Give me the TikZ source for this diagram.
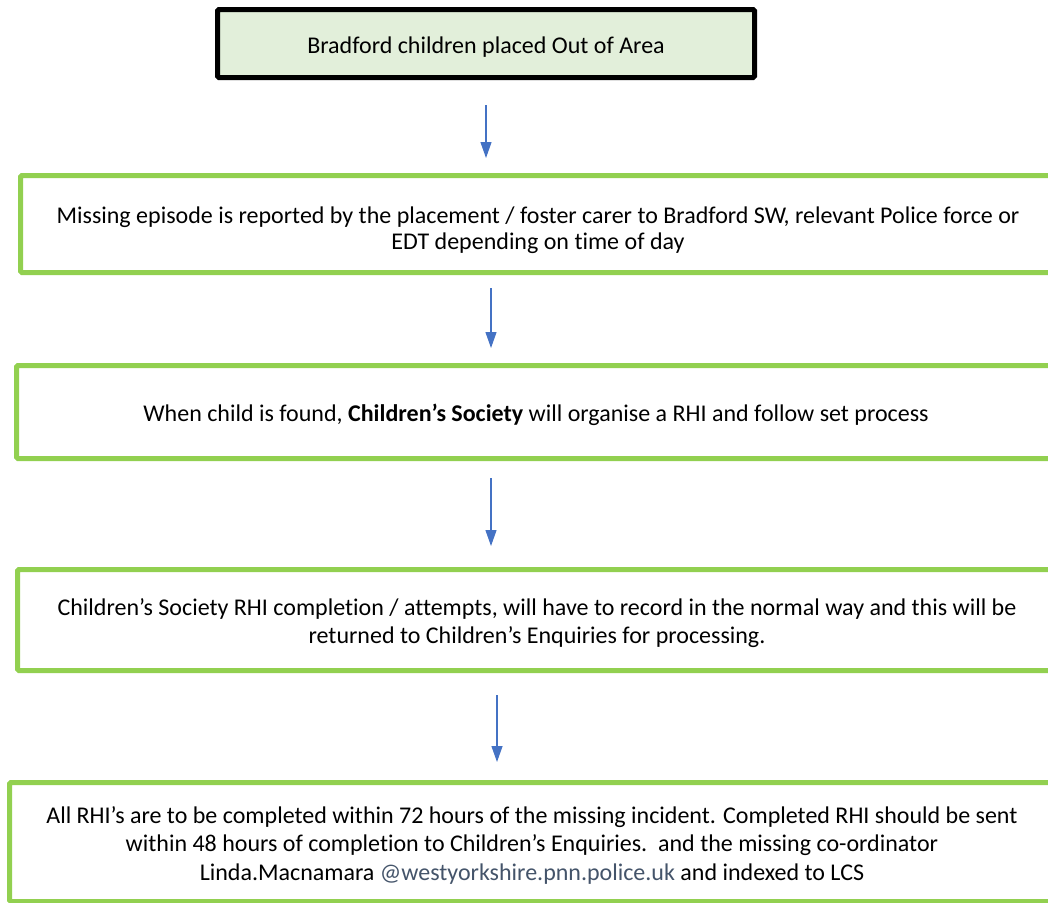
\documentclass[tikz,border=0pt]{standalone}
\usepackage{fontspec}
\setmainfont{Carlito}[Ligatures={NoCommon,NoDiscretionary}]
\usetikzlibrary{arrows.meta}
\definecolor{boxgreen}{HTML}{92D050}
\definecolor{topfill}{HTML}{E2EFDA}
\definecolor{arrowblue}{HTML}{4472C4}
\definecolor{linkgrey}{HTML}{44546A}
\begin{document}
\begin{tikzpicture}[x=1pt, y=-1pt,
    every node/.style={font=\fontsize{24}{28.5}\selectfont, align=center},
    stepbox/.style={draw=boxgreen, line width=5pt, rounded corners=1.5pt, fill=white},
    topbox/.style={draw=black, line width=5pt, rounded corners=1.5pt, fill=topfill},
    flow/.style={arrowblue, line width=1.2pt, -{Triangle[length=16pt, width=11pt]}}]
    \useasboundingbox (0,0) rectangle (1048,902);
    \clip (0,0) rectangle (1048,902);
    % Start: out of area placement
    \node[topbox, minimum width=537pt, minimum height=68pt] (start) at (486,43.5) {};
    \node (start-text) at ([yshift=-4pt]start.center) {Bradford children placed Out of Area};

    % Step 1: reporting
    \node[stepbox, minimum width=1035pt, minimum height=97pt] (missing) at (538,224) {};
    \node (missing-text) at ([yshift=-6pt]missing.center)
        {Missing episode is reported by the placement / foster carer to Bradford SW, relevant Police force or\\[-3pt]EDT depending on time of day};

    % Step 2: child found
    \node[stepbox, minimum width=1039pt, minimum height=93pt] (found) at (536,412) {};
    \node (found-text) at ([yshift=-3pt]found.center)
        {When child is found, \textbf{Children’s Society} will organise a RHI and follow set process};

    % Step 3: recording
    \node[stepbox, minimum width=1039pt, minimum height=101pt] (record) at (537,620) {};
    \node (record-text) at ([yshift=-3pt]record.center)
        {Children’s Society RHI completion / attempts, will have to record in the normal way and this will be\\returned to Children’s Enquiries for processing.};

    % Step 4: deadlines
    \node[stepbox, minimum width=1045pt, minimum height=119pt] (deadline) at (532,842) {};
    \node (deadline-text) at ([yshift=-3pt]deadline.center)
        {All RHI’s are to be completed within 72 hours of the missing incident. Completed RHI should be sent\\within 48 hours of completion to Children’s Enquiries.\ \ and the missing co-ordinator\\Linda.Macnamara {\color{linkgrey}@westyorkshire.pnn.police.uk} and indexed to LCS};

    % Arrows between the steps
    \draw[flow, shorten <=25pt, shorten >=15pt] (start.south) -- ([xshift=-52pt]missing.north);
    \draw[flow, shorten <=13pt, shorten >=15pt] ([xshift=-47pt]missing.south) -- ([xshift=-45pt]found.north);
    \draw[flow, shorten <=17pt, shorten >=21pt] ([xshift=-45pt]found.south) -- ([xshift=-46pt]record.north);
    \draw[flow, shorten <=22pt, shorten >=18pt] ([xshift=-40pt]record.south) -- ([xshift=-35pt]deadline.north);
\end{tikzpicture}
\end{document}
